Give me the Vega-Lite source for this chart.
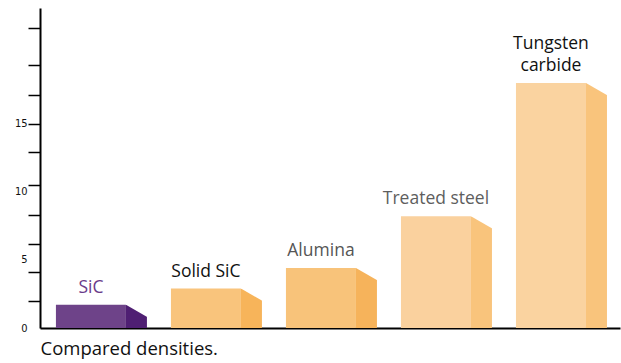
{
  "$schema": "https://vega.github.io/schema/vega-lite/v6.json",
  "width": 580,
  "height": 320,
  "autosize": {"type": "none"},
  "padding": {"left": 40, "top": 8, "right": 1, "bottom": 35},
  "background": "white",
  "config": {"view": {"stroke": null}},
  "data": {
    "values": [
      {"material": "SiC", "line1": "", "line2": "SiC", "density": 1.7},
      {"material": "Solid SiC", "line1": "", "line2": "Solid SiC", "density": 2.9},
      {"material": "Alumina", "line1": "", "line2": "Alumina", "density": 4.4},
      {"material": "Treated steel", "line1": "", "line2": "Treated steel", "density": 8.2},
      {"material": "Tungsten carbide", "line1": "Tungsten", "line2": "carbide", "density": 18.0}
    ]
  },
  "encoding": {
    "x": {
      "field": "material", "type": "nominal", "sort": null,
      "scale": {"type": "band", "paddingInner": 0.209, "paddingOuter": 0.126, "align": 0.55, "round": false},
      "axis": {
        "domain": true, "domainColor": "#000", "domainWidth": 2,
        "ticks": false, "labels": false,
        "title": "Compared densities.", "titleAnchor": "start", "titleAlign": "left",
        "titleFont": "Open Sans", "titleFontSize": 18.5, "titleFontWeight": "normal", "titleColor": "#111",
        "titlePadding": 11
      }
    },
    "y": {
      "field": "density", "type": "quantitative",
      "scale": {"domain": [0, 23.5], "nice": false, "zero": true},
      "axis": {
        "title": null, "grid": false,
        "domainColor": "#000", "domainWidth": 2,
        "values": [0, 2, 4.1, 5, 6.2, 8.3, 10, 10.5, 12.9, 15, 17.1, 19.3, 22],
        "tickColor": "#000", "tickWidth": 1.5, "tickSize": 12,
        "tickOpacity": {"condition": {"test": "indexof([0,5,10], datum.value) >= 0", "value": 0}, "value": 1},
        "labelExpr": "indexof([0,5,10,15], datum.value) >= 0 ? datum.label : ''",
        "labelFont": "DejaVu Sans Condensed", "labelFontSize": 11, "labelColor": "#111",
        "labelPadding": 1, "labelBaseline": "middle"
      }
    }
  },
  "layer": [
    {
      "mark": {"type": "bar", "width": 70, "xOffset": -10.5},
      "encoding": {
        "color": {
          "field": "material", "type": "nominal", "legend": null,
          "scale": {"domain": ["SiC", "Solid SiC", "Alumina", "Treated steel", "Tungsten carbide"],
                    "range": ["#6e4389", "#f9c47c", "#f8c37a", "#fad19e", "#fad3a0"]}
        }
      }
    },
    {
      "mark": {"type": "bar", "width": 21, "xOffset": 35},
      "encoding": {
        "color": {
          "field": "material", "type": "nominal", "legend": null,
          "scale": {"domain": ["SiC", "Solid SiC", "Alumina", "Treated steel", "Tungsten carbide"],
                    "range": ["#4f1f73", "#f7b45a", "#f6b35b", "#f9c47c", "#f9c47c"]}
        }
      }
    },
    {
      "mark": {"type": "point", "filled": true, "opacity": 1, "color": "white", "strokeWidth": 0,
               "shape": "M-1,-0.3L1.15,-0.3L1.15,1.24L-1,0Z", "size": 441, "xOffset": 35},
      "encoding": {}
    },
    {
      "mark": {"type": "text", "xOffset": -10.5, "dy": -12, "baseline": "alphabetic", "align": "center",
               "font": "Open Sans", "fontSize": 17.5},
      "encoding": {
        "text": {"field": "line2"},
        "color": {
          "field": "material", "type": "nominal", "legend": null,
          "scale": {"domain": ["SiC", "Solid SiC", "Alumina", "Treated steel", "Tungsten carbide"],
                    "range": ["#6a3a8a", "#111111", "#555555", "#5e5e5e", "#111111"]}
        }
      }
    },
    {
      "mark": {"type": "text", "xOffset": -10.5, "dy": -34, "baseline": "alphabetic", "align": "center",
               "font": "Open Sans", "fontSize": 17.5, "color": "#111111"},
      "encoding": {
        "text": {"field": "line1"}
      }
    }
  ],
  "resolve": {"scale": {"color": "independent"}}
}
